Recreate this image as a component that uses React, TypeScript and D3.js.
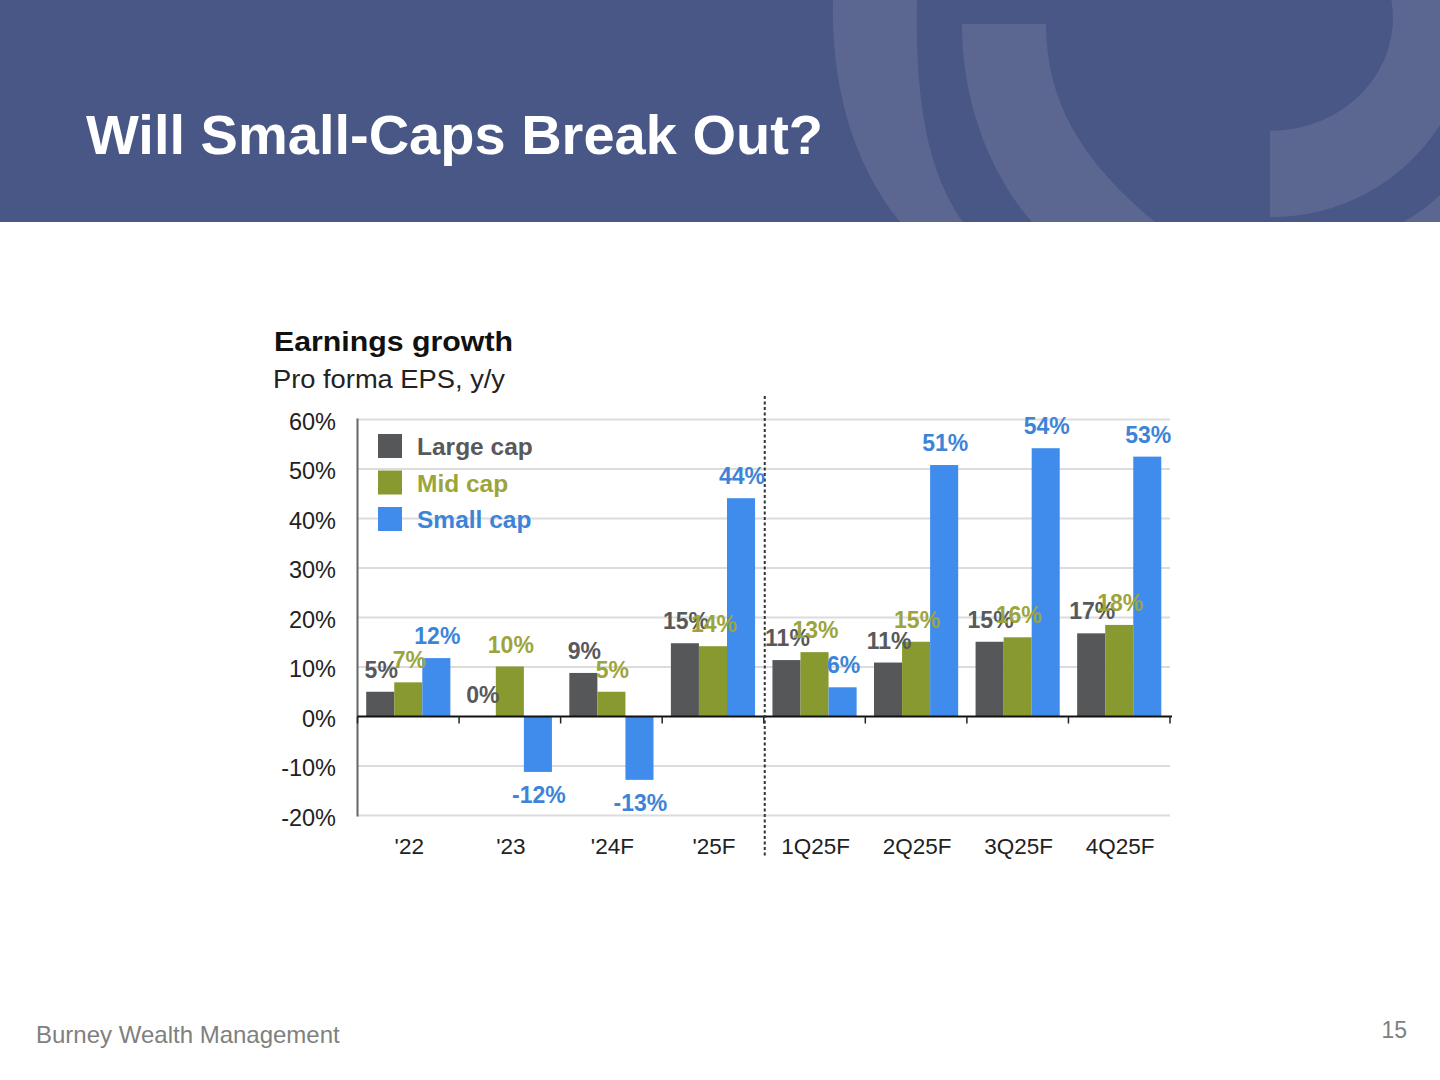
import React from 'react';
import * as d3 from 'd3';

const categories = ["'22", "'23", "'24F", "'25F", "1Q25F", "2Q25F", "3Q25F", "4Q25F"];
const seriesNames = ['Large cap', 'Mid cap', 'Small cap'];
const largeCap = [5.0, 0, 8.8, 14.8, 11.4, 10.9, 15.1, 16.8];
const midCap = [6.9, 10.1, 5.0, 14.2, 13.0, 15.1, 16.0, 18.5];
const smallCap = [11.8, -11.2, -12.8, 44.1, 5.9, 50.8, 54.2, 52.5];
const largeLabels = ['5%', '0%', '9%', '15%', '11%', '11%', '15%', '17%'];
const midLabels = ['7%', '10%', '5%', '14%', '13%', '15%', '16%', '18%'];
const smallLabels = ['12%', '-12%', '-13%', '44%', '6%', '51%', '54%', '53%'];
const yTicks = [-20, -10, 0, 10, 20, 30, 40, 50, 60];
const dividerBefore = '1Q25F';

const FONT = '"Liberation Sans", Arial, Helvetica, sans-serif';
const barColors = ['#555759', '#87992f', '#3f8cec'];
const textColors = ['#58595b', '#9ca53c', '#3d84d8'];

export default function App() {
  const y = d3.scaleLinear().domain([-20, 60]).range([815.5, 419.5]);
  const x = d3.scaleBand<string>().domain(categories).range([357.5, 1170]);
  const xs = d3.scaleBand<string>().domain(seriesNames).range([0, x.bandwidth()]).paddingOuter(0.31);
  const series = [
    { name: seriesNames[0], values: largeCap, labels: largeLabels },
    { name: seriesNames[1], values: midCap, labels: midLabels },
    { name: seriesNames[2], values: smallCap, labels: smallLabels },
  ];
  const [x0, x1] = x.range();
  const divX = (x(dividerBefore) as number) + 1;
  const tickXs = categories.map((c) => x(c) as number).concat([x1]);

  return (
    <div style={{ position: 'absolute', left: 0, top: 0, width: 1440, height: 1080, background: '#fff' }}>
      <svg width={1440} height={1080} style={{ display: 'block' }}>
        {/* Header */}
        <rect x={0} y={0} width={1440} height={222} fill="#485785" />
        <g fill="#5b6791">
          <path d="M833,0 C831,80 850,160 900,222 L963,222 C930,175 915,110 917,0 Z" />
          <path d="M962,24 L1046,24 C1046,100 1080,160 1155,222 L1032,222 C995,180 962,110 962,24 Z" />
          <path d="M1270,131 A123,113 0 0 0 1391.4,0 L1440,0 L1440,125 A199,199 0 0 1 1270,217 Z" />
          <path d="M1403,222 Q1425,210 1440,195 L1440,222 Z" />
        </g>
        <text x={86} y={154} fill="#fff" fontFamily={FONT} fontWeight="bold" fontSize={56}>
          Will Small-Caps Break Out?
        </text>

        {/* Chart titles */}
        <text x={274} y={351} fill="#111" fontFamily={FONT} fontWeight="bold" fontSize={28} textLength={239} lengthAdjust="spacingAndGlyphs">
          Earnings growth
        </text>
        <text x={273} y={388} fill="#222" fontFamily={FONT} fontSize={25.5} textLength={232} lengthAdjust="spacingAndGlyphs">
          Pro forma EPS, y/y
        </text>

        {/* Grid */}
        {yTicks.filter((t) => t !== 0).map((t) => (
          <line key={'g' + t} x1={x0} x2={x1} y1={y(t)} y2={y(t)} stroke="#dcdcdc" strokeWidth={2} />
        ))}
        {/* Y tick labels */}
        {yTicks.map((t) => (
          <text key={'yt' + t} x={336} y={y(t) + 10} textAnchor="end" fill="#222" fontFamily={FONT} fontSize={23.5}>
            {t + '%'}
          </text>
        ))}

        {/* Bars */}
        {series.map((s, si) => (
          <g key={s.name} fill={barColors[si]}>
            {categories.map((c, ci) => {
              const v = s.values[ci];
              const bx = (x(c) as number) + (xs(s.name) as number);
              return (
                <rect key={c} x={bx} width={xs.bandwidth()} y={Math.min(y(v), y(0))} height={Math.abs(y(v) - y(0))} />
              );
            })}
          </g>
        ))}

        {/* Left axis */}
        <line x1={x0} x2={x0} y1={y(60) - 1} y2={y(-20) + 1} stroke="#666" strokeWidth={2} />
        {/* Zero line */}
        <line x1={x0} x2={x1 + 2} y1={y(0)} y2={y(0)} stroke="#111" strokeWidth={2} />
        {tickXs.map((tx, i) => (
          <line key={'tk' + i} x1={tx} x2={tx} y1={y(0)} y2={y(0) + 7} stroke="#222" strokeWidth={1.5} />
        ))}

        {/* Divider */}
        <line x1={divX} x2={divX} y1={396} y2={858} stroke="#333" strokeWidth={2} strokeDasharray="3,2.5" />

        {/* Value labels */}
        {series.map((s, si) => (
          <g key={'lab' + s.name} fill={textColors[si]} fontFamily={FONT} fontWeight="bold" fontSize={23} textAnchor="middle">
            {categories.map((c, ci) => {
              const v = s.values[ci];
              const cx = (x(c) as number) + (xs(s.name) as number) + xs.bandwidth() / 2 + 1;
              const ty = v >= 0 ? y(v) - 14 : y(v) + 31;
              return (
                <text key={c} x={cx} y={ty}>
                  {s.labels[ci]}
                </text>
              );
            })}
          </g>
        ))}

        {/* X labels */}
        {categories.map((c) => (
          <text key={'xl' + c} x={(x(c) as number) + x.bandwidth() / 2 + 1} y={854} textAnchor="middle" fill="#222" fontFamily={FONT} fontSize={22.5}>
            {c}
          </text>
        ))}

        {/* Legend */}
        {seriesNames.map((n, i) => (
          <g key={'lg' + n}>
            <rect x={378} y={434 + i * 36.5} width={24} height={24} fill={barColors[i]} />
            <text x={417} y={455 + i * 36.5} fill={textColors[i]} fontFamily={FONT} fontWeight="bold" fontSize={24.5}>
              {n}
            </text>
          </g>
        ))}

        {/* Footer */}
        <text x={36} y={1043} fill="#808080" fontFamily={FONT} fontSize={24}>
          Burney Wealth Management
        </text>
        <text x={1407} y={1038} textAnchor="end" fill="#808080" fontFamily={FONT} fontSize={23}>
          15
        </text>
      </svg>
    </div>
  );
}
